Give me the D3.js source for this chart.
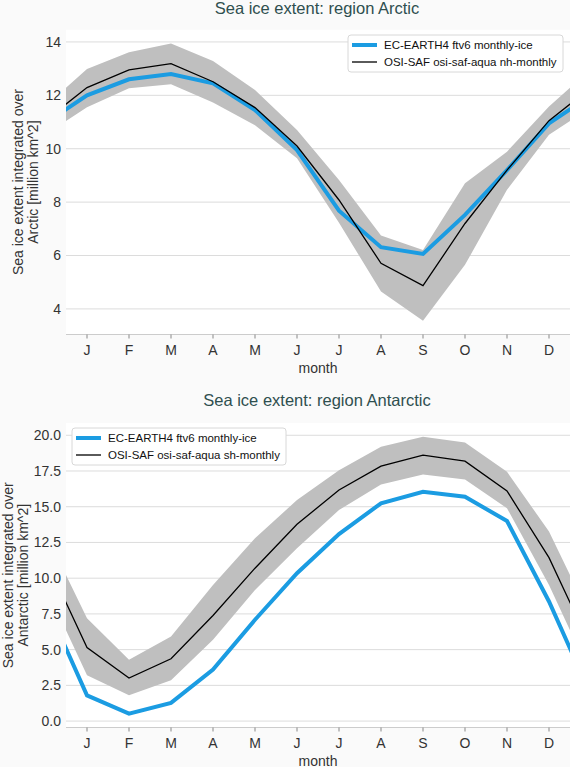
<!DOCTYPE html>
<html>
<head>
<meta charset="utf-8">
<script src="https://cdn.jsdelivr.net/npm/d3@7"></script>
<style>
  body { margin: 0; background: #fafafa; }
  svg { display: block; font-family: "Liberation Sans", Arial, sans-serif; }
</style>
</head>
<body>
<svg id="chart"></svg>
<script>
// month labels, J..D
const months = ["J", "F", "M", "A", "M", "J", "J", "A", "S", "O", "N", "D"];

// Arctic (values in million km^2)
const arcticModel = [12.0, 12.6, 12.8, 12.45, 11.45, 9.95, 7.68, 6.31, 6.06, 7.52, 9.2, 10.95];
const arcticObs   = [12.29, 12.95, 13.19, 12.51, 11.54, 10.1, 8.08, 5.71, 4.87, 7.2, 9.2, 11.05];
const arcticHigh  = [12.99, 13.61, 13.94, 13.29, 12.2, 10.7, 8.83, 6.75, 6.21, 8.71, 9.89, 11.58];
const arcticLow   = [11.55, 12.27, 12.42, 11.73, 10.88, 9.64, 7.23, 4.65, 3.56, 5.65, 8.46, 10.52];

// Antarctic
const antarcticModel = [1.8, 0.52, 1.27, 3.6, 7.09, 10.35, 13.09, 15.24, 16.05, 15.7, 14.0, 8.37];
const antarcticObs   = [5.15, 3.01, 4.36, 7.39, 10.7, 13.77, 16.17, 17.84, 18.61, 18.19, 16.1, 11.44];
const antarcticHigh  = [7.2, 4.29, 5.92, 9.53, 12.79, 15.47, 17.56, 19.19, 19.89, 19.5, 17.45, 13.26];
const antarcticLow   = [3.2, 1.8, 2.85, 5.69, 9.18, 12.09, 14.77, 16.56, 17.26, 16.91, 14.89, 9.53];

const arcticTicks = [4, 6, 8, 10, 12, 14];
const antarcticTicks = [0, 2.5, 5, 7.5, 10, 12.5, 15, 17.5, 20];

const width = 570, height = 767;
const blue = "#1b9ce2";

const svg = d3.select("#chart")
    .attr("width", width)
    .attr("height", height);

// x is shared: month index, Dec of previous year at 0 and Jan of next at 13
const x = d3.scaleLinear().domain([0.5, 12.5]).range([66, 570]);

// wrap a 12 month series so it runs off both edges
function wrap(arr) {
    const pts = arr.map((v, i) => ({m: i + 1, v: v}));
    return [{m: 0, v: arr[11]}].concat(pts, [{m: 13, v: arr[0]}]);
}

function drawPanel(opts) {
    const g = svg.append("g");
    const all = opts.high.concat(opts.low, opts.model, opts.obs);
    const lo = d3.min(all), hi = d3.max(all), pad = (hi - lo) * 0.05;
    const y = d3.scaleLinear().domain([lo - pad, hi + pad]).range([opts.bottom, opts.top]);

    // plot background
    g.append("rect")
        .attr("x", x.range()[0]).attr("y", opts.top)
        .attr("width", x.range()[1] - x.range()[0])
        .attr("height", opts.bottom - opts.top)
        .attr("fill", "white");

    // grid
    g.selectAll(".grid")
        .data(opts.ticks)
        .enter().append("line")
        .attr("x1", x.range()[0]).attr("x2", x.range()[1])
        .attr("y1", d => y(d)).attr("y2", d => y(d))
        .attr("stroke", "#dcdcdc")
        .attr("stroke-width", 1);

    // y tick labels
    g.selectAll(".ylab")
        .data(opts.ticks)
        .enter().append("text")
        .attr("x", 61)
        .attr("y", d => y(d))
        .attr("dy", "0.35em")
        .attr("text-anchor", "end")
        .attr("font-size", 14)
        .attr("fill", "#333")
        .text(d => opts.fmt(d));

    // x axis
    g.append("line")
        .attr("x1", x.range()[0]).attr("x2", x.range()[1])
        .attr("y1", opts.bottom).attr("y2", opts.bottom)
        .attr("stroke", "#cccccc");
    g.selectAll(".xt")
        .data(months)
        .enter().append("line")
        .attr("x1", (d, i) => x(i + 1)).attr("x2", (d, i) => x(i + 1))
        .attr("y1", opts.bottom).attr("y2", opts.bottom + 4)
        .attr("stroke", "#888");
    g.selectAll(".xlab")
        .data(months)
        .enter().append("text")
        .attr("x", (d, i) => x(i + 1))
        .attr("y", opts.bottom + 20)
        .attr("text-anchor", "middle")
        .attr("font-size", 14)
        .attr("fill", "#333")
        .text(d => d);

    g.append("text")
        .attr("x", (x.range()[0] + x.range()[1]) / 2)
        .attr("y", opts.bottom + 38)
        .attr("text-anchor", "middle")
        .attr("font-size", 14)
        .attr("fill", "#333")
        .text("month");

    // y label, two lines
    const cy = (opts.top + opts.bottom) / 2;
    opts.ylabel.forEach((t, i) => {
        g.append("text")
            .attr("transform", `translate(${opts.ylabelX + i * 15},${cy}) rotate(-90)`)
            .attr("text-anchor", "middle")
            .attr("font-size", 14)
            .attr("fill", "#333")
            .text(t);
    });

    // title
    g.append("text")
        .attr("x", 317)
        .attr("y", opts.titleY)
        .attr("text-anchor", "middle")
        .attr("font-size", 16.5)
        .attr("fill", "#2f4f4f")
        .text(opts.title);

    // clipped data area
    const clipId = "clip" + opts.id;
    svg.append("clipPath").attr("id", clipId)
        .append("rect")
        .attr("x", x.range()[0]).attr("y", opts.top)
        .attr("width", x.range()[1] - x.range()[0])
        .attr("height", opts.bottom - opts.top);
    const plot = g.append("g").attr("clip-path", `url(#${clipId})`);

    const hiPts = wrap(opts.high), loPts = wrap(opts.low);
    const band = hiPts.map((d, i) => ({m: d.m, hi: d.v, lo: loPts[i].v}));
    plot.append("path")
        .datum(band)
        .attr("d", d3.area().x(d => x(d.m)).y0(d => y(d.lo)).y1(d => y(d.hi)))
        .attr("fill", "#bfbfbf");

    const line = d3.line().x(d => x(d.m)).y(d => y(d.v));
    plot.append("path")
        .datum(wrap(opts.model))
        .attr("d", line)
        .attr("fill", "none")
        .attr("stroke", blue)
        .attr("stroke-width", 4);
    plot.append("path")
        .datum(wrap(opts.obs))
        .attr("d", line)
        .attr("fill", "none")
        .attr("stroke", "black")
        .attr("stroke-width", 1.3);

    // legend
    const lg = g.append("g").attr("transform", `translate(${opts.legend[0]},${opts.legend[1]})`);
    lg.append("rect")
        .attr("width", opts.legendW).attr("height", 37)
        .attr("rx", 3)
        .attr("fill", "white")
        .attr("stroke", "#d8d8d8");
    const items = [
        {name: opts.names[0], color: blue, w: 4},
        {name: opts.names[1], color: "black", w: 1.3}
    ];
    items.forEach((it, i) => {
        const yy = 10 + i * 17;
        lg.append("line")
            .attr("x1", 4).attr("x2", 29)
            .attr("y1", yy).attr("y2", yy)
            .attr("stroke", it.color)
            .attr("stroke-width", it.w);
        lg.append("text")
            .attr("x", 36).attr("y", yy)
            .attr("dy", "0.35em")
            .attr("font-size", 11.5)
            .attr("fill", "#111")
            .text(it.name);
    });
}

drawPanel({
    id: "a", top: 29.7, bottom: 334.5, titleY: 14,
    model: arcticModel, obs: arcticObs, high: arcticHigh, low: arcticLow,
    ticks: arcticTicks, fmt: d3.format("d"),
    ylabel: ["Sea ice extent integrated over", "Arctic [million km^2]"], ylabelX: 23,
    title: "Sea ice extent: region Arctic",
    legend: [348, 35], legendW: 215,
    names: ["EC-EARTH4 ftv6 monthly-ice", "OSI-SAF osi-saf-aqua nh-monthly"]
});

drawPanel({
    id: "b", top: 423, bottom: 727.5, titleY: 406,
    model: antarcticModel, obs: antarcticObs, high: antarcticHigh, low: antarcticLow,
    ticks: antarcticTicks, fmt: d3.format(".1f"),
    ylabel: ["Sea ice extent integrated over", "Antarctic [million km^2]"], ylabelX: 12.5,
    title: "Sea ice extent: region Antarctic",
    legend: [72, 428], legendW: 214,
    names: ["EC-EARTH4 ftv6 monthly-ice", "OSI-SAF osi-saf-aqua sh-monthly"]
});
</script>
</body>
</html>
